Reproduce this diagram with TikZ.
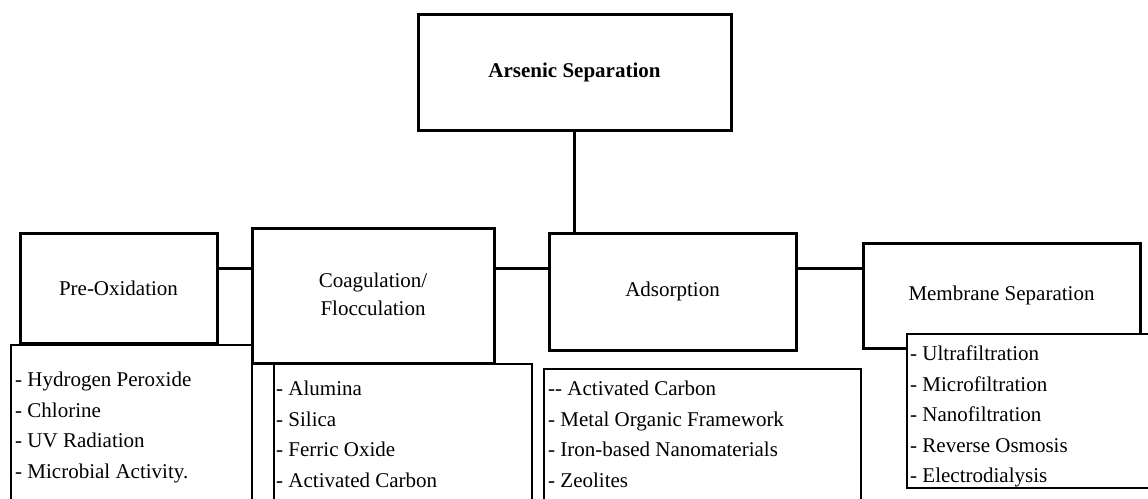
\documentclass[tikz,border=0pt]{standalone}
\usepackage{fontspec}
\setmainfont{Liberation Serif}
\usetikzlibrary{positioning}

\begin{document}
\begin{tikzpicture}[
  x=1pt,y=-1pt,
  stage/.style={draw,line width=3pt,fill=white,align=center,
    font=\fontsize{21}{28}\selectfont},
  listbox/.style={draw,line width=1.5pt,fill=white,anchor=north west,inner sep=0pt},
  listtext/.style={anchor=north west,inner sep=0pt,align=left,
    font=\fontsize{21}{30.5}\selectfont},
  link/.style={line width=3pt},
]
  \useasboundingbox (0,0) rectangle (1148,498);

  % main stages
  \node[stage,minimum width=313pt,minimum height=116pt] (arsenic) at (574.5,72)
    {\raisebox{4pt}{\textbf{Arsenic Separation}}};
  \node[stage,minimum width=197pt,minimum height=110pt] (preox) at (118.5,288) {Pre-Oxidation};
  \node[stage,minimum width=242pt,minimum height=135pt] (coag) at (373,295.5)
    {\raisebox{4pt}{\begin{tabular}{@{}c@{}}Coagulation/\\Flocculation\end{tabular}}};
  \node[stage,minimum width=247pt,minimum height=117pt] (adsorp) at (672.5,291.5) {Adsorption};
  \node[stage,minimum width=277pt,minimum height=105pt] (membrane) at (1001.5,295.5)
    {Membrane Separation};

  % connectors
  \coordinate (bar) at (0,268.5);
  \draw[link] (arsenic.south) -- (arsenic.south |- adsorp.north);
  \draw[link] (preox.east |- bar) -- (coag.west |- bar);
  \draw[link] (coag.east |- bar) -- (adsorp.west |- bar);
  \draw[link] (adsorp.east |- bar) -- (membrane.west |- bar);

  % lists under each stage
  \node[listbox,minimum width=241pt,minimum height=200pt] (preoxlist) at (10,344) {};
  \node[listtext,xshift=5pt,yshift=-28pt] (preoxitems) at (preoxlist.north west)
    {- Hydrogen Peroxide\\- Chlorine\\- UV Radiation\\- Microbial Activity.};

  \node[listbox,minimum width=258pt,minimum height=200pt] (coaglist) at (273,363) {};
  \node[listtext,xshift=3pt,yshift=-18pt] (coagitems) at (coaglist.north west)
    {- Alumina\\- Silica\\- Ferric Oxide\\- Activated Carbon};

  \node[listbox,minimum width=317pt,minimum height=200pt] (adsorplist) at (543,368) {};
  \node[listtext,xshift=5pt,yshift=-13pt] (adsorpitems) at (adsorplist.north west)
    {-{}- Activated Carbon\\- Metal Organic Framework\\- Iron-based Nanomaterials\\- Zeolites};

  \node[listbox,minimum width=300pt,minimum height=154pt] (membranelist) at (906,333) {};
  \node[listtext,xshift=4pt,yshift=-13pt] (membraneitems) at (membranelist.north west)
    {- Ultrafiltration\\- Microfiltration\\- Nanofiltration\\- Reverse Osmosis\\- Electrodialysis};
\end{tikzpicture}
\end{document}
